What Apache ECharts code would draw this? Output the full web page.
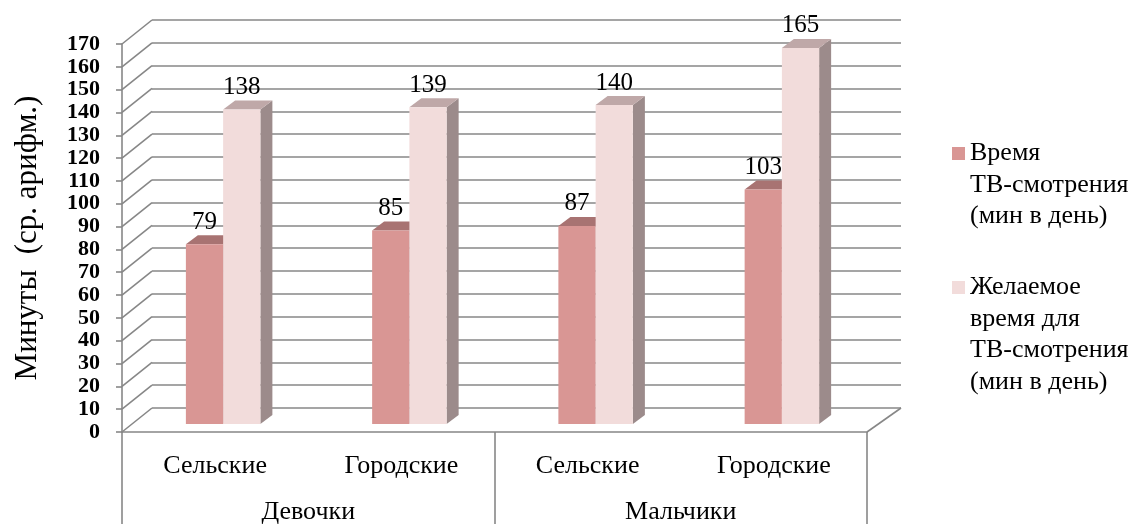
<!DOCTYPE html>
<html>
<head>
<meta charset="utf-8">
<script src="https://cdn.jsdelivr.net/npm/echarts@6/dist/echarts.min.js"></script>
<style>
html,body{margin:0;padding:0;background:#fff;}
#c{width:1134px;height:524px;}
</style>
</head>
<body>
<div id="c"></div>
<script>
const categories = ['Сельские', 'Городские', 'Сельские', 'Городские'];
const groups = ['Девочки', 'Мальчики'];
const actualMinutes = [79, 85, 87, 103];
const desiredMinutes = [138, 139, 140, 165];
const yTicks = [0, 10, 20, 30, 40, 50, 60, 70, 80, 90, 100, 110, 120, 130, 140, 150, 160, 170];
const seriesNames = ['Время ТВ-смотрения (мин в день)', 'Желаемое время для ТВ-смотрения (мин в день)'];
const legendLines = [['Время', 'ТВ-смотрения', '(мин в день)'], ['Желаемое', 'время для', 'ТВ-смотрения', '(мин в день)']];
const yName = 'Минуты  (ср. арифм.)';

const FONT = '"Liberation Serif", "Times New Roman", serif';
const GRID = '#878787';
const DEPTH_X = 30, DEPTH_Y = -24;

function barRenderer(front, top, side, offset) {
  return function (params, api) {
    const i = api.value(0), v = api.value(1);
    const band = api.size([1, 0])[0];
    const w = band * 0.2;
    const c = api.coord([i, v]);
    const b = api.coord([i, 0]);
    const x0 = c[0] + offset * band;
    const yT = c[1] - 7.5, yB = b[1] - 8;
    const dx = 12, dy = -9;
    return {
      type: 'group',
      children: [
        { type: 'polygon', shape: { points: [[x0 + w, yT], [x0 + w + dx, yT + dy], [x0 + w + dx, yB + dy], [x0 + w, yB]] }, style: { fill: side } },
        { type: 'polygon', shape: { points: [[x0, yT], [x0 + dx, yT + dy], [x0 + w + dx, yT + dy], [x0 + w, yT]] }, style: { fill: top } },
        { type: 'rect', shape: { x: x0, y: yT, width: w, height: yB - yT }, style: { fill: front } },
        { type: 'text', style: { text: String(v), x: x0 + w / 2, y: yT - 22, align: 'center', verticalAlign: 'middle', fontFamily: FONT, fontSize: 25, fill: '#000' } }
      ]
    };
  };
}

function frameRenderer(params, api) {
  const v = api.value(1);
  const cs = params.coordSys;
  const y = api.coord([0, v])[1];
  const children = [
    { type: 'line', shape: { x1: cs.x, y1: y, x2: cs.x + DEPTH_X, y2: y + DEPTH_Y }, style: { stroke: GRID, lineWidth: 1.6 } }
  ];
  if (v === yTicks[0]) {
    const xr = cs.x + cs.width;
    children.push({ type: 'line', shape: { x1: xr, y1: y, x2: xr + DEPTH_X + 4, y2: y + DEPTH_Y }, style: { stroke: GRID, lineWidth: 1.6 } });
  }
  return { type: 'group', children };
}

const chart = echarts.init(document.getElementById('c'), null, { renderer: 'canvas' });

const legendBase = {
  orient: 'vertical', left: 952, padding: 0, icon: 'rect', itemWidth: 13, itemHeight: 13,
  selectedMode: false
};
const legendText = { fontFamily: FONT, fontSize: 26, lineHeight: 31.5, color: '#000' };

function legendLabel(lines) {
  // blank lines on top keep the first line level with the marker
  const pad = new Array(lines.length - 1).fill('');
  return pad.concat(lines).join('\n');
}

chart.setOption({
  animation: false,
  backgroundColor: '#fff',
  grid: [
    { left: 122, right: 267, top: 44, bottom: 92, outerBoundsMode: 'none', containLabel: false },
    { left: 122 + DEPTH_X, right: 267 - DEPTH_X - 4, top: 44 + DEPTH_Y, bottom: 92 - DEPTH_Y, outerBoundsMode: 'none', containLabel: false }
  ],
  xAxis: [
    {
      type: 'category', gridIndex: 0, data: categories, position: 'bottom',
      axisLine: { lineStyle: { color: GRID, width: 1.6 } },
      axisTick: { show: false },
      axisLabel: { margin: 21, fontFamily: FONT, fontSize: 26, color: '#000', interval: 0 }
    },
    {
      type: 'category', gridIndex: 0, data: groups, position: 'bottom',
      axisLine: { show: false },
      axisTick: { show: true, length: 92, interval: 0, lineStyle: { color: GRID, width: 1.6 } },
      axisLabel: { margin: 67, fontFamily: FONT, fontSize: 26, color: '#000', interval: 0 }
    },
    { type: 'category', gridIndex: 1, data: categories, show: false }
  ],
  yAxis: [
    {
      type: 'value', gridIndex: 0, min: 0, max: 170, interval: 10,
      name: yName, nameLocation: 'middle', nameGap: 79,
      nameTextStyle: { fontFamily: FONT, fontSize: 31, color: '#000' },
      axisLine: { show: true, lineStyle: { color: GRID, width: 1.6 } },
      axisTick: { show: true, length: 6, lineStyle: { color: GRID, width: 1.6 } },
      axisLabel: { margin: 22, fontFamily: FONT, fontSize: 22, fontWeight: 'bold', color: '#000' },
      splitLine: { show: false }
    },
    {
      type: 'value', gridIndex: 1, min: 0, max: 170, interval: 10,
      axisLine: { show: false }, axisTick: { show: false }, axisLabel: { show: false },
      splitLine: { show: true, lineStyle: { color: GRID, width: 1.6 } }
    }
  ],
  legend: [
    Object.assign({}, legendBase, {
      top: 74.75,
      data: [{ name: seriesNames[0] }],
      formatter: () => legendLabel(legendLines[0]),
      textStyle: legendText
    }),
    Object.assign({}, legendBase, {
      top: 177.25,
      data: [{ name: seriesNames[1] }],
      formatter: () => legendLabel(legendLines[1]),
      textStyle: legendText
    })
  ],
  series: [
    {
      type: 'custom', name: 'frame', xAxisIndex: 0, yAxisIndex: 0, z: 1,
      renderItem: frameRenderer, silent: true,
      data: yTicks.map(t => [0, t])
    },
    {
      type: 'custom', name: seriesNames[0], xAxisIndex: 0, yAxisIndex: 0, z: 3,
      itemStyle: { color: '#d99694' },
      renderItem: barRenderer('#d99694', '#a87372', '#a06b6b', -0.157),
      data: actualMinutes.map((v, i) => [i, v])
    },
    {
      type: 'custom', name: seriesNames[1], xAxisIndex: 0, yAxisIndex: 0, z: 4,
      itemStyle: { color: '#f2dcdb' },
      renderItem: barRenderer('#f2dcdb', '#bfa8a8', '#9c8b8b', 0.043),
      data: desiredMinutes.map((v, i) => [i, v])
    }
  ]
});
</script>
</body>
</html>
